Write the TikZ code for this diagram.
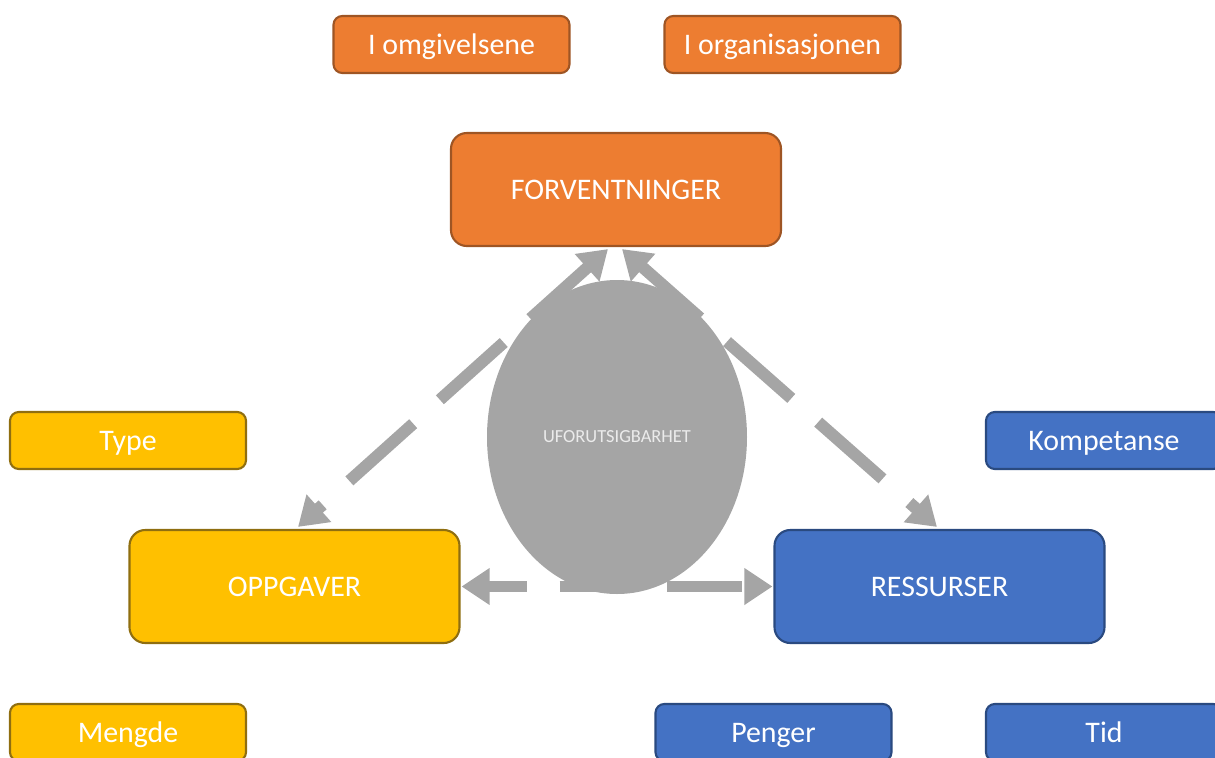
\documentclass[tikz,border=0pt]{standalone}
\usepackage{fontspec}
\setmainfont{Carlito}
\usetikzlibrary{arrows.meta,shapes.geometric}
\definecolor{orangefill}{HTML}{ED7D31}
\definecolor{orangeedge}{HTML}{9E5524}
\definecolor{yellowfill}{HTML}{FFC000}
\definecolor{yellowedge}{HTML}{8F6E10}
\definecolor{bluefill}{HTML}{4472C4}
\definecolor{blueedge}{HTML}{2A4A80}
\definecolor{greyfill}{HTML}{A5A5A5}
\tikzset{
  box/.style={draw, line width=1.2pt, text=white, align=center, inner sep=0pt,
    text height=13.4pt, text depth=2pt, font=\fontsize{17}{20}\selectfont},
  smallbox/.style={box, rounded corners=5pt, minimum width=236*0.02cm, minimum height=57*0.02cm},
  bigbox/.style={box, rounded corners=9pt, minimum width=330*0.02cm, minimum height=113*0.02cm},
  orangebox/.style={fill=orangefill, draw=orangeedge},
  yellowbox/.style={fill=yellowfill, draw=yellowedge},
  bluebox/.style={fill=bluefill, draw=blueedge},
  conn/.style={draw=greyfill, line width=6.8pt, dash pattern=on 48.8pt off 20.4pt,
    dash phase=4.5pt,
    {Triangle[length=16pt,width=20pt]}-{Triangle[length=16pt,width=20pt]}},
  flatconn/.style={conn, dash pattern=on 42.5pt off 18.7pt, dash phase=20.4pt},
}
\begin{document}
\begin{tikzpicture}[x=0.02cm, y=-0.02cm]
\useasboundingbox (0,0) rectangle (1215,758);
\clip (0,0) rectangle (1215,758);

% expectations and their sources
\node[smallbox, orangebox] (omg) at (451.5,44.5) {I omgivelsene};
\node[smallbox, orangebox] (org) at (782.5,44.5) {I organisasjonen};
\node[bigbox, orangebox] (forv) at (616,189.5) {FORVENTNINGER};

% tasks
\node[smallbox, yellowbox] (type) at (128,440.5) {Type};
\node[bigbox, yellowbox] (oppg) at (294.5,586.5) {OPPGAVER};
\node[smallbox, yellowbox] (meng) at (128,732.5) {Mengde};

% resources
\node[smallbox, bluebox] (komp) at (1104,440.5) {Kompetanse};
\node[bigbox, bluebox] (ress) at (939.5,586.5) {RESSURSER};
\node[smallbox, bluebox] (peng) at (773.5,732.5) {Penger};
\node[smallbox, bluebox] (tid) at (1104,732.5) {Tid};

% two-way links between the three corners
\draw[conn] ([shift={(-8,2)}]forv.south) -- ([shift={(3.5,-2)}]oppg.north);
\draw[conn] ([shift={(6,2)}]forv.south) -- ([shift={(-2.5,-2)}]ress.north);
\draw[flatconn] ([xshift=1*0.02cm]oppg.east) -- ([xshift=-1*0.02cm]ress.west);

% uncertainty in the middle
\node[ellipse, fill=greyfill, inner sep=0pt, minimum width=260*0.02cm,
  minimum height=314*0.02cm, text=white!92!black,
  font=\fontsize{10.5}{12}\selectfont] (unc) at (617,437) {UFORUTSIGBARHET};
\end{tikzpicture}
\end{document}
